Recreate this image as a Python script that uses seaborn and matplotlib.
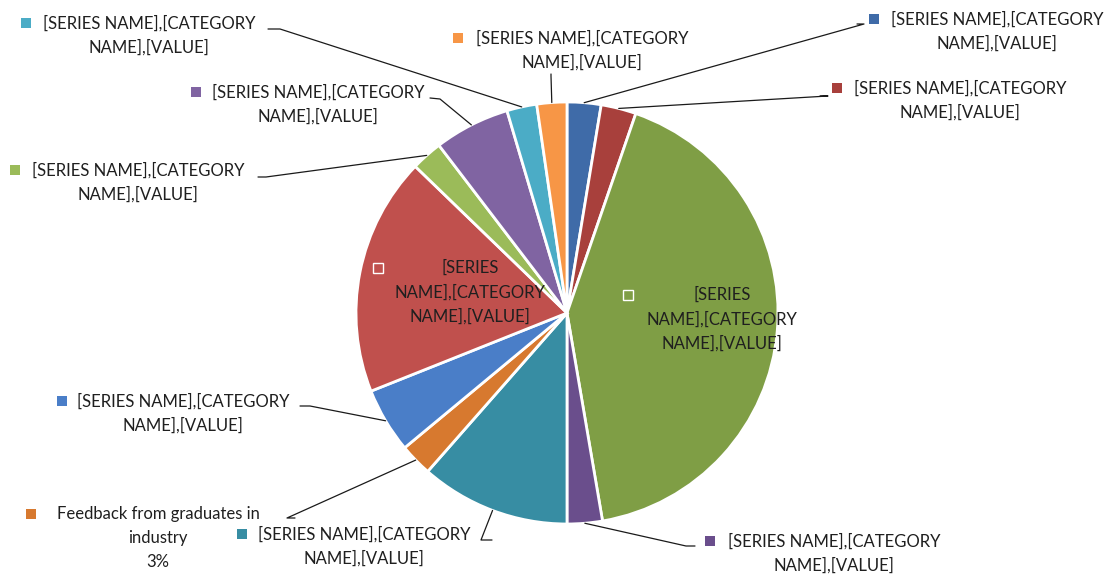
import matplotlib
matplotlib.use("Agg")
import matplotlib.pyplot as plt
import numpy as np
import seaborn as sns

# slices, clockwise from 12 o'clock
placeholder = "[SERIES NAME],[CATEGORY\nNAME],[VALUE]"
labels = [placeholder] * 12
labels[5] = "Feedback from graduates in\nindustry\n3%"
labels[2] = "[SERIES\nNAME],[CATEGORY\nNAME],[VALUE]"
labels[7] = "[SERIES\nNAME],[CATEGORY\nNAME],[VALUE]"
shares = [2.6, 2.7, 42.1, 2.7, 11.5, 2.5, 5.0, 18.3, 2.4, 5.8, 2.3, 2.3]
slice_colors = ["#3F6BA8", "#A8403C", "#7F9E45", "#6A4E8C", "#378DA3", "#D7792F",
                "#4A7EC8", "#C0504D", "#9BBB59", "#8064A2", "#4BACC6", "#F79646"]

W, H = 1111, 576
CX, CY, R = 567, 313, 211

# label layout in pixels: (text centre x, first line y, square x, leader path or None)
layout = [
    (997, 19, 874, [(857, 24), (864, 24)]),
    (960, 88, 837, [(820, 96), (828, 96)]),
    (722, 295, 628, None),
    (834, 541, 710, [(695, 546), (686, 546)]),
    (364, 534, 242, [(492, 540), (481, 540)]),
    (158, 514, 31, [(295, 518), (287, 518)]),
    (183, 401, 62, [(300, 406), (310, 406)]),
    (470, 268, 378, None),
    (138, 170, 15, [(258, 177), (266, 177)]),
    (318, 92, 196, [(430, 98), (440, 99)]),
    (149, 23, 26, [(268, 29), (280, 29)]),
    (582, 38, 458, [(551, 74), (551, 76)]),
]

sns.set_theme(style="white")
plt.rcParams['font.family'] = ['Lato', 'DejaVu Sans']
palette = sns.color_palette(slice_colors)

fig = plt.figure(figsize=(W / 100, H / 100), dpi=100)
ax = fig.add_axes([0, 0, 1, 1])
wedges, _ = ax.pie(shares, colors=palette, startangle=270, counterclock=True,
                   center=(CX, CY), radius=R,
                   wedgeprops=dict(edgecolor="white", linewidth=2.0))
ax.set_xlim(0, W)
ax.set_ylim(H, 0)
ax.axis("off")

text_color = "#1f1f1f"
fs = 12
for w, lab, col, (tx, ty, sx, path) in zip(wedges, labels, palette, layout):
    lines = lab.split("\n")
    for i, ln in enumerate(lines):
        ax.text(tx, ty + i * 24, ln, ha="center", va="center", fontsize=fs,
                color=text_color)
    if path is None:
        ax.plot(sx, ty, marker="s", markersize=6.5, markerfacecolor="none",
                markeredgecolor="white", markeredgewidth=1.0)
        continue
    ax.plot(sx, ty, marker="s", markersize=6.5, color=col, markeredgewidth=0)
    mid = np.deg2rad((w.theta1 + w.theta2) / 2)
    anchor = (CX + R * np.cos(mid), CY + R * np.sin(mid))
    xs = [p[0] for p in path] + [anchor[0]]
    ys = [p[1] for p in path] + [anchor[1]]
    ax.plot(xs, ys, color="#1a1a1a", linewidth=0.9)

fig.savefig("out.png", dpi=100, facecolor="white")
